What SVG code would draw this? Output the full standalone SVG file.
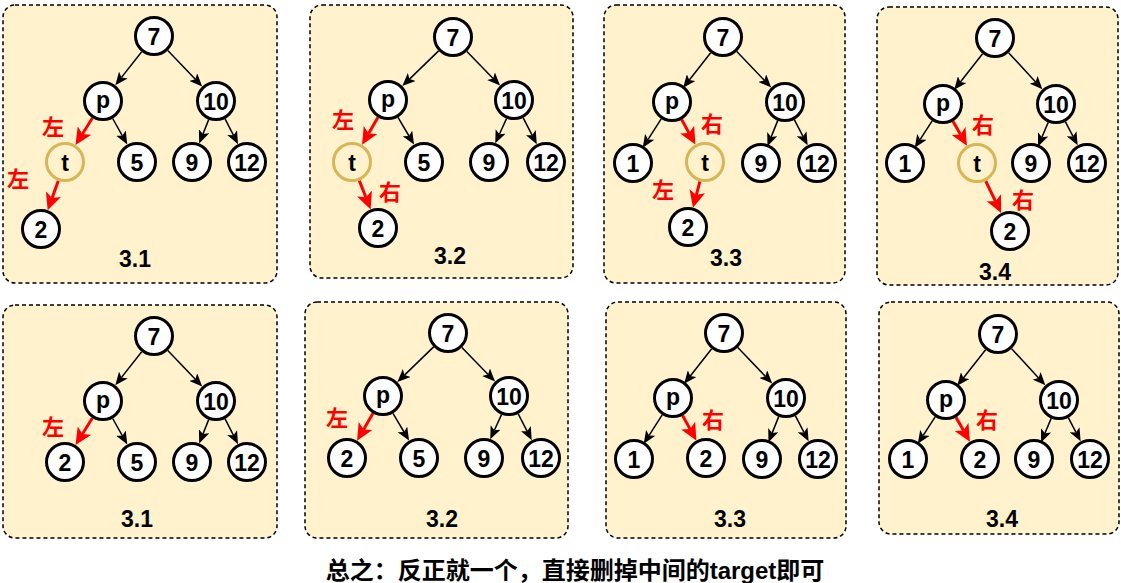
<svg xmlns="http://www.w3.org/2000/svg" width="1121" height="583" viewBox="0 0 1121 583">
<style>
.box{fill:#fff2cc;stroke:#000;stroke-width:1.5;stroke-dasharray:4 3}
.n circle{fill:#fff;stroke:#000;stroke-width:3}
.t circle{fill:none;stroke:#d6b656;stroke-width:3}
.n text,.t text{font-family:"Liberation Sans",Arial,sans-serif;font-weight:bold;font-size:23px;text-anchor:middle;dominant-baseline:central;fill:#000}
.e{stroke:#000;stroke-width:1.5;fill:none;marker-end:url(#ab)}
.r{stroke:#f00;stroke-width:3;fill:none;marker-end:url(#ar)}
.rl{font-family:"Noto Sans CJK SC","Liberation Sans",sans-serif;font-weight:bold;font-size:22px;fill:#f00;text-anchor:middle;dominant-baseline:central}
.cap{font-family:"Liberation Sans",Arial,sans-serif;font-weight:bold;font-size:23px;fill:#000;text-anchor:middle;dominant-baseline:central}
.title{font-family:"Liberation Sans","Noto Sans CJK SC",sans-serif;font-weight:bold;font-size:24px;fill:#000;text-anchor:middle}
</style>
<defs>
<marker id="ab" markerUnits="userSpaceOnUse" markerWidth="13" markerHeight="11" refX="3" refY="5.5" orient="auto"><path d="M0,0 L13,5.5 L0,11 L3,5.5 Z" fill="#000"/></marker>
<marker id="ar" markerUnits="userSpaceOnUse" markerWidth="17" markerHeight="16" refX="4" refY="8" orient="auto"><path d="M0,0 L17,8 L0,16 L4,8 Z" fill="#f00"/></marker>
</defs>

<!-- Panel boxes -->
<g id="boxes">
<rect class="box" x="3" y="5" width="274" height="278" rx="12"/>
<rect class="box" x="310" y="5" width="263" height="273" rx="12"/>
<rect class="box" x="604" y="5" width="241" height="278" rx="12"/>
<rect class="box" x="877" y="7" width="241" height="278" rx="12"/>
<rect class="box" x="3" y="305" width="274" height="233" rx="12"/>
<rect class="box" x="305" y="302" width="263" height="236" rx="12"/>
<rect class="box" x="606" y="302" width="240" height="236" rx="12"/>
<rect class="box" x="879" y="302" width="240" height="232" rx="12"/>
</g>

<!-- Panel 1 (top 3.1) -->
<g id="panel1">
<g id="p1-edges">
<path class="e" d="M141.7,51.7 L121.5,77.4"/>
<path class="e" d="M167.8,50.5 L195.3,79.3"/>
<path class="e" d="M112.7,118.5 L122.4,135.8"/>
<path class="e" d="M208.7,119.6 L202.9,134.1"/>
<path class="e" d="M225.1,118.8 L233.5,135.3"/>
<path class="r" d="M92.4,118.0 L82.4,134.0"/>
<path class="r" d="M58.3,180.8 L52.1,198.0"/>
</g>
<g id="p1-n7" class="n"><circle cx="154" cy="36" r="18.5"/><text x="154" y="37">7</text></g>
<g id="p1-np" class="n"><circle cx="103" cy="101" r="18.5"/><text x="103" y="100">p</text></g>
<g id="p1-n10" class="n"><circle cx="216" cy="101" r="18.5"/><text x="216" y="102">10</text></g>
<g id="p1-nt" class="t"><circle cx="65" cy="162" r="18.5"/><text x="65" y="163">t</text></g>
<g id="p1-n5" class="n"><circle cx="137" cy="162" r="18.5"/><text x="137" y="163">5</text></g>
<g id="p1-n9" class="n"><circle cx="192" cy="162" r="18.5"/><text x="192" y="163">9</text></g>
<g id="p1-n12" class="n"><circle cx="247" cy="162" r="18.5"/><text x="247" y="163">12</text></g>
<g id="p1-n2" class="n"><circle cx="41" cy="229" r="18.5"/><text x="41" y="230">2</text></g>
<text class="rl" x="53" y="125">左</text>
<text class="rl" x="18" y="177">左</text>
<text class="cap" x="135" y="259">3.1</text>
</g>

<!-- Panel 2 (top 3.2) -->
<g id="panel2">
<g id="p2-edges">
<path class="e" d="M438.6,50.9 L409.5,79.1"/>
<path class="e" d="M466.9,51.4 L493.1,78.4"/>
<path class="e" d="M398.0,117.3 L409.0,136.0"/>
<path class="e" d="M506.5,118.6 L499.4,134.2"/>
<path class="e" d="M523.2,117.8 L532.2,135.3"/>
<path class="r" d="M378.0,117.3 L368.6,133.4"/>
<path class="r" d="M359.3,180.6 L365.9,197.3"/>
</g>
<g id="p2-n7" class="n"><circle cx="453" cy="37" r="18.5"/><text x="453" y="38">7</text></g>
<g id="p2-np" class="n"><circle cx="388" cy="100" r="18.5"/><text x="388" y="99">p</text></g>
<g id="p2-n10" class="n"><circle cx="514" cy="100" r="18.5"/><text x="514" y="101">10</text></g>
<g id="p2-nt" class="t"><circle cx="352" cy="162" r="18.5"/><text x="352" y="163">t</text></g>
<g id="p2-n5" class="n"><circle cx="424" cy="162" r="18.5"/><text x="424" y="163">5</text></g>
<g id="p2-n9" class="n"><circle cx="489" cy="162" r="18.5"/><text x="489" y="163">9</text></g>
<g id="p2-n12" class="n"><circle cx="546" cy="162" r="18.5"/><text x="546" y="163">12</text></g>
<g id="p2-n2" class="n"><circle cx="378" cy="228" r="18.5"/><text x="378" y="229">2</text></g>
<text class="rl" x="343" y="118">左</text>
<text class="rl" x="390" y="190">右</text>
<text class="cap" x="450" y="256">3.2</text>
</g>

<!-- Panel 3 (top 3.3) -->
<g id="panel3">
<g id="p3-edges">
<path class="e" d="M710.7,52.7 L689.3,80.0"/>
<path class="e" d="M736.8,51.5 L764.3,80.3"/>
<path class="e" d="M661.2,118.9 L648.1,139.4"/>
<path class="e" d="M777.7,120.6 L771.2,136.9"/>
<path class="e" d="M794.3,119.7 L803.0,136.4"/>
<path class="r" d="M681.6,119.5 L689.1,133.1"/>
<path class="r" d="M699.9,181.4 L696.3,195.1"/>
</g>
<g id="p3-n7" class="n"><circle cx="723" cy="37" r="18.5"/><text x="723" y="38">7</text></g>
<g id="p3-np" class="n"><circle cx="672" cy="102" r="18.5"/><text x="672" y="101">p</text></g>
<g id="p3-n10" class="n"><circle cx="785" cy="102" r="18.5"/><text x="785" y="103">10</text></g>
<g id="p3-n1" class="n"><circle cx="633" cy="163" r="18.5"/><text x="633" y="164">1</text></g>
<g id="p3-nt" class="t"><circle cx="705" cy="162" r="18.5"/><text x="705" y="163">t</text></g>
<g id="p3-n9" class="n"><circle cx="761" cy="163" r="18.5"/><text x="761" y="164">9</text></g>
<g id="p3-n12" class="n"><circle cx="817" cy="163" r="18.5"/><text x="817" y="164">12</text></g>
<g id="p3-n2" class="n"><circle cx="688" cy="227" r="18.5"/><text x="688" y="228">2</text></g>
<text class="rl" x="712" y="122">右</text>
<text class="rl" x="663" y="188">左</text>
<text class="cap" x="726" y="258">3.3</text>
</g>

<!-- Panel 4 (top 3.4) -->
<g id="panel4">
<g id="p4-edges">
<path class="e" d="M982.6,53.7 L960.4,82.0"/>
<path class="e" d="M1008.6,52.7 L1035.6,82.0"/>
<path class="e" d="M932.2,120.8 L920.2,139.4"/>
<path class="e" d="M1048.2,122.4 L1041.9,137.2"/>
<path class="e" d="M1065.3,121.7 L1073.0,136.4"/>
<path class="r" d="M953.0,121.3 L960.5,134.4"/>
<path class="r" d="M985.7,181.0 L995.5,201.3"/>
</g>
<g id="p4-n7" class="n"><circle cx="995" cy="38" r="18.5"/><text x="995" y="39">7</text></g>
<g id="p4-np" class="n"><circle cx="943" cy="104" r="18.5"/><text x="943" y="103">p</text></g>
<g id="p4-n10" class="n"><circle cx="1056" cy="104" r="18.5"/><text x="1056" y="105">10</text></g>
<g id="p4-n1" class="n"><circle cx="905" cy="163" r="18.5"/><text x="905" y="164">1</text></g>
<g id="p4-nt" class="t"><circle cx="977" cy="163" r="18.5"/><text x="977" y="164">t</text></g>
<g id="p4-n9" class="n"><circle cx="1031" cy="163" r="18.5"/><text x="1031" y="164">9</text></g>
<g id="p4-n12" class="n"><circle cx="1087" cy="163" r="18.5"/><text x="1087" y="164">12</text></g>
<g id="p4-n2" class="n"><circle cx="1010" cy="231" r="18.5"/><text x="1010" y="232">2</text></g>
<text class="rl" x="983" y="123">右</text>
<text class="rl" x="1023" y="198">右</text>
<text class="cap" x="995" y="272">3.4</text>
</g>

<!-- Panel 5 (bottom 3.1) -->
<g id="panel5" transform="translate(0,300)">
<g id="p5-edges">
<path class="e" d="M141.7,51.7 L121.5,77.4"/>
<path class="e" d="M167.8,50.5 L195.3,79.3"/>
<path class="e" d="M112.7,118.5 L122.4,135.8"/>
<path class="e" d="M208.7,119.6 L202.9,134.1"/>
<path class="e" d="M225.1,118.8 L233.5,135.3"/>
<path class="r" d="M92.4,118.0 L82.4,134.0"/>
</g>
<g id="p5-n7" class="n"><circle cx="154" cy="36" r="18.5"/><text x="154" y="37">7</text></g>
<g id="p5-np" class="n"><circle cx="103" cy="101" r="18.5"/><text x="103" y="100">p</text></g>
<g id="p5-n10" class="n"><circle cx="216" cy="101" r="18.5"/><text x="216" y="102">10</text></g>
<g id="p5-n2" class="n"><circle cx="65" cy="162" r="18.5"/><text x="65" y="163">2</text></g>
<g id="p5-n5" class="n"><circle cx="137" cy="162" r="18.5"/><text x="137" y="163">5</text></g>
<g id="p5-n9" class="n"><circle cx="192" cy="162" r="18.5"/><text x="192" y="163">9</text></g>
<g id="p5-n12" class="n"><circle cx="247" cy="162" r="18.5"/><text x="247" y="163">12</text></g>
<text class="rl" x="53" y="125">左</text>
<text class="cap" x="137" y="219">3.1</text>
</g>

<!-- Panel 6 (bottom 3.2) -->
<g id="panel6" transform="translate(-5,296)">
<g id="p6-edges">
<path class="e" d="M438.6,50.9 L409.5,79.1"/>
<path class="e" d="M466.9,51.4 L493.1,78.4"/>
<path class="e" d="M398.0,117.3 L409.0,136.0"/>
<path class="e" d="M506.5,118.6 L499.4,134.2"/>
<path class="e" d="M523.2,117.8 L532.2,135.3"/>
<path class="r" d="M378.0,117.3 L368.6,133.4"/>
</g>
<g id="p6-n7" class="n"><circle cx="453" cy="37" r="18.5"/><text x="453" y="38">7</text></g>
<g id="p6-np" class="n"><circle cx="388" cy="100" r="18.5"/><text x="388" y="99">p</text></g>
<g id="p6-n10" class="n"><circle cx="514" cy="100" r="18.5"/><text x="514" y="101">10</text></g>
<g id="p6-n2" class="n"><circle cx="352" cy="162" r="18.5"/><text x="352" y="163">2</text></g>
<g id="p6-n5" class="n"><circle cx="424" cy="162" r="18.5"/><text x="424" y="163">5</text></g>
<g id="p6-n9" class="n"><circle cx="489" cy="162" r="18.5"/><text x="489" y="163">9</text></g>
<g id="p6-n12" class="n"><circle cx="546" cy="162" r="18.5"/><text x="546" y="163">12</text></g>
<text class="rl" x="342" y="120">左</text>
<text class="cap" x="447" y="223">3.2</text>
</g>

<!-- Panel 7 (bottom 3.3) -->
<g id="panel7" transform="translate(1,296)">
<g id="p7-edges">
<path class="e" d="M710.7,52.7 L689.3,80.0"/>
<path class="e" d="M736.8,51.5 L764.3,80.3"/>
<path class="e" d="M661.2,118.9 L648.1,139.4"/>
<path class="e" d="M777.7,120.6 L771.2,136.9"/>
<path class="e" d="M794.3,119.7 L803.0,136.4"/>
<path class="r" d="M681.6,119.5 L689.1,133.1"/>
</g>
<g id="p7-n7" class="n"><circle cx="723" cy="37" r="18.5"/><text x="723" y="38">7</text></g>
<g id="p7-np" class="n"><circle cx="672" cy="102" r="18.5"/><text x="672" y="101">p</text></g>
<g id="p7-n10" class="n"><circle cx="785" cy="102" r="18.5"/><text x="785" y="103">10</text></g>
<g id="p7-n1" class="n"><circle cx="633" cy="163" r="18.5"/><text x="633" y="164">1</text></g>
<g id="p7-n2" class="n"><circle cx="705" cy="162" r="18.5"/><text x="705" y="163">2</text></g>
<g id="p7-n9" class="n"><circle cx="761" cy="163" r="18.5"/><text x="761" y="164">9</text></g>
<g id="p7-n12" class="n"><circle cx="817" cy="163" r="18.5"/><text x="817" y="164">12</text></g>
<text class="rl" x="712" y="122">右</text>
<text class="cap" x="729" y="223">3.3</text>
</g>

<!-- Panel 8 (bottom 3.4) -->
<g id="panel8" transform="translate(3,296)">
<g id="p8-edges">
<path class="e" d="M982.6,53.7 L960.4,82.0"/>
<path class="e" d="M1008.6,52.7 L1035.6,82.0"/>
<path class="e" d="M932.2,120.8 L920.2,139.4"/>
<path class="e" d="M1048.2,122.4 L1041.9,137.2"/>
<path class="e" d="M1065.3,121.7 L1073.0,136.4"/>
<path class="r" d="M953.0,121.3 L960.5,134.4"/>
</g>
<g id="p8-n7" class="n"><circle cx="995" cy="38" r="18.5"/><text x="995" y="39">7</text></g>
<g id="p8-np" class="n"><circle cx="943" cy="104" r="18.5"/><text x="943" y="103">p</text></g>
<g id="p8-n10" class="n"><circle cx="1056" cy="104" r="18.5"/><text x="1056" y="105">10</text></g>
<g id="p8-n1" class="n"><circle cx="905" cy="163" r="18.5"/><text x="905" y="164">1</text></g>
<g id="p8-n2" class="n"><circle cx="977" cy="163" r="18.5"/><text x="977" y="164">2</text></g>
<g id="p8-n9" class="n"><circle cx="1031" cy="163" r="18.5"/><text x="1031" y="164">9</text></g>
<g id="p8-n12" class="n"><circle cx="1087" cy="163" r="18.5"/><text x="1087" y="164">12</text></g>
<text class="rl" x="984" y="122">右</text>
<text class="cap" x="999" y="223">3.4</text>
</g>

<text class="title" x="575" y="579">总之：反正就一个，直接删掉中间的target即可</text>
</svg>
